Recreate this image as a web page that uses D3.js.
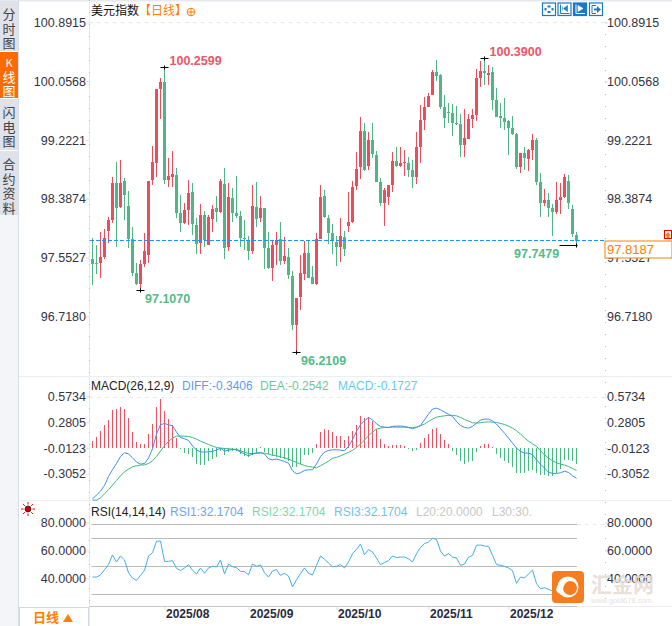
<!DOCTYPE html>
<html>
<head>
<meta charset="utf-8">
<script src="https://cdn.jsdelivr.net/npm/d3@7"></script>
<style>
  html, body { margin: 0; padding: 0; background: #fff; overflow: hidden; }
  text { font-family: "Liberation Sans", Arial, "Noto Sans CJK SC", sans-serif; }
  .cjk { font-family: "Noto Sans CJK SC", sans-serif; }
  .axis text { font-size: 12.5px; fill: #333344; }
  .axis .domain { display: none; }
  .axis line { stroke: #cfe3ef; }
</style>
</head>
<body>
<div id="canvas"></div>
<script>
// candles
const opens = [97.534,97.477,97.477,97.562,97.932,98.088,98.613,98.272,98.641,98.286,97.818,97.335,97.179,97.463,97.591,98.656,98.897,99.947,100.047,98.656,98.698,98.726,98.187,98.045,98.230,98.485,98.017,97.761,98.159,97.733,98.102,98.258,98.201,98.599,97.704,98.400,98.187,98.144,97.832,97.804,97.647,98.272,98.116,98.258,97.690,97.406,97.733,97.818,97.505,97.562,97.293,96.597,96.994,97.321,97.619,97.278,97.179,97.818,98.428,98.116,97.903,97.775,97.704,97.846,98.002,98.059,98.570,98.840,99.351,98.854,99.223,99.010,98.627,98.329,98.414,98.584,98.925,98.854,98.897,98.897,98.798,98.698,99.124,99.507,99.692,99.862,100.189,100.146,99.692,99.621,99.607,99.465,99.451,99.152,99.238,99.522,99.578,100.104,100.203,100.146,100.189,99.791,99.564,99.536,99.493,99.394,99.309,98.840,99.039,98.954,99.081,99.223,98.627,98.329,98.372,98.258,98.201,98.372,98.414,98.641,98.244,97.875];
const highs = [97.827,97.733,97.922,97.960,98.135,98.698,98.916,98.939,98.684,98.499,97.988,97.473,97.520,97.898,98.641,99.138,99.947,100.099,100.264,98.968,99.067,98.826,98.443,98.329,98.656,98.613,98.116,98.315,98.215,98.159,98.301,98.428,98.670,98.826,98.613,98.542,98.712,98.215,98.088,97.861,98.584,98.627,98.428,98.258,97.917,97.804,97.917,98.059,97.846,97.690,97.363,96.980,97.591,97.789,97.789,97.434,97.903,98.584,98.513,98.158,98.031,97.860,98.116,97.931,98.485,98.641,99.053,99.550,99.464,99.337,99.464,99.067,98.684,98.542,98.584,99.053,99.124,99.124,99.081,98.982,98.939,99.337,99.720,99.834,99.891,100.217,100.359,100.160,99.862,99.749,99.734,99.706,99.592,99.663,99.592,99.663,100.231,100.345,100.387,100.288,100.260,99.962,99.749,99.820,99.507,99.564,99.323,99.039,99.124,99.096,99.309,99.252,98.755,98.528,98.471,98.315,98.627,98.613,98.741,98.727,98.301,97.917];
const lows = [97.165,97.321,97.264,97.534,97.756,98.040,97.704,98.258,98.088,97.690,97.293,97.165,97.094,97.425,97.477,98.585,98.703,99.521,98.599,98.556,98.556,98.116,97.917,98.031,98.017,97.875,97.605,97.605,97.704,97.733,97.917,98.059,98.187,97.534,97.648,98.059,98.116,97.704,97.662,97.520,97.605,97.988,98.059,97.392,97.392,97.222,97.449,97.449,97.463,97.250,96.526,96.214,96.810,97.236,97.264,97.179,97.165,97.818,98.116,97.747,97.605,97.434,97.491,97.576,97.917,98.045,98.513,98.670,98.783,98.797,98.968,98.627,98.286,98.002,98.300,98.485,98.840,98.840,98.712,98.698,98.542,98.599,98.897,99.365,99.692,99.862,100.061,99.663,99.394,99.465,99.280,99.436,98.982,98.982,99.238,99.394,99.493,99.976,100.004,100.004,99.649,99.550,99.394,99.365,99.010,99.294,98.812,98.755,98.798,98.783,98.939,98.585,98.130,98.286,98.130,97.861,98.173,98.173,98.400,98.244,97.846,97.728];
const closes = [97.468,97.468,97.562,97.837,98.088,98.613,98.258,98.613,98.443,97.818,97.335,97.179,97.463,97.648,98.641,98.911,99.947,100.047,98.656,98.712,98.741,98.187,98.045,98.230,98.471,98.031,97.747,98.159,97.804,98.130,98.244,98.201,98.641,97.690,98.414,98.187,98.144,97.832,97.818,97.648,98.286,98.102,98.258,97.690,97.406,97.733,97.804,97.505,97.576,97.307,96.597,96.980,97.335,97.619,97.264,97.179,97.818,98.414,98.130,97.903,97.804,97.704,97.860,97.676,98.059,98.556,98.811,99.351,98.797,99.223,99.024,98.627,98.329,98.513,98.584,98.925,98.854,98.897,98.911,98.797,98.698,99.124,99.507,99.692,99.848,100.189,100.132,99.692,99.536,99.607,99.465,99.451,99.152,99.252,99.522,99.578,100.104,100.203,100.175,100.175,99.791,99.550,99.536,99.479,99.394,99.309,98.840,99.039,98.968,99.081,99.223,98.627,98.329,98.372,98.258,98.201,98.372,98.414,98.698,98.324,97.889,97.790];

// macd
const diffs = [-.572,-.530,-.485,-.421,-.318,-.242,-.171,-.091,-.049,-.061,-.106,-.155,-.178,-.171,-.110,-.004,.163,.269,.284,.269,.258,.186,.125,.110,.091,.030,-.019,-.038,-.042,-.038,-.034,-.019,.004,-.030,-.019,-.011,-.015,-.042,-.064,-.083,-.064,-.053,-.045,-.064,-.117,-.129,-.121,-.133,-.148,-.167,-.254,-.288,-.277,-.250,-.242,-.242,-.178,-.091,-.042,-.023,-.015,-.015,-.019,-.027,.023,.099,.193,.269,.314,.352,.326,.280,.250,.242,.239,.250,.254,.254,.250,.239,.224,.239,.261,.326,.390,.447,.458,.440,.413,.390,.364,.307,.261,.239,.231,.250,.288,.322,.333,.333,.314,.277,.224,.174,.117,.061,.004,-.034,-.053,-.053,-.072,-.129,-.178,-.224,-.269,-.284,-.284,-.277,-.258,-.273,-.311,-.341];
const deas = [-.587,-.587,-.561,-.515,-.470,-.417,-.364,-.311,-.265,-.235,-.208,-.197,-.189,-.186,-.171,-.140,-.091,-.030,.030,.080,.117,.140,.140,.140,.136,.125,.106,.083,.064,.045,.027,.011,.004,0,-.004,-.008,-.011,-.027,-.042,-.057,-.057,-.053,-.053,-.053,-.064,-.076,-.083,-.095,-.106,-.121,-.140,-.159,-.178,-.193,-.205,-.212,-.220,-.197,-.171,-.144,-.110,-.102,-.083,-.064,-.045,-.023,.011,.049,.095,.144,.186,.220,.231,.239,.239,.242,.242,.242,.242,.239,.239,.242,.258,.277,.307,.333,.356,.364,.371,.375,.375,.371,.352,.330,.311,.292,.288,.292,.299,.303,.299,.296,.284,.273,.254,.231,.201,.163,.121,.083,.053,.023,-.027,-.072,-.110,-.140,-.163,-.178,-.189,-.205,-.227,-.250];
const hist = [.080,.133,.193,.261,.326,.432,.447,.474,.451,.341,.189,.076,.045,.045,.163,.280,.474,.565,.421,.337,.269,.117,-.011,-.057,-.064,-.095,-.178,-.189,-.189,-.140,-.117,-.095,-.027,-.072,-.042,-.034,-.027,-.064,-.091,-.099,-.072,-.057,.019,-.045,-.064,-.091,-.095,-.106,-.117,-.148,-.216,-.208,-.178,-.080,-.072,-.057,.053,.189,.224,.212,.189,.144,.144,.099,.136,.201,.269,.371,.345,.356,.314,.224,.110,.053,.023,.038,.038,.034,.030,-.011,-.027,-.019,.064,.117,.167,.220,.231,.167,.091,.045,-.027,-.072,-.140,-.174,-.159,-.140,-.045,.023,.053,.053,.011,-.064,-.110,-.140,-.167,-.212,-.280,-.284,-.284,-.254,-.242,-.280,-.299,-.307,-.318,-.311,-.280,-.231,-.129,-.129,-.140,-.182];

// rsi
const rsi = [42.1,42.1,43.6,47.4,51.0,57.9,52.9,57.1,54.3,45.2,41.4,39.8,43.3,46.9,57.1,59.5,67.6,67.9,53.3,53.3,53.8,48.3,46.7,48.6,51.0,46.9,44.3,48.6,44.8,48.6,49.8,49.3,54.3,44.3,51.4,49.5,48.8,46.2,46.0,43.6,51.4,49.8,50.7,45.2,42.1,46.4,47.4,43.3,44.8,42.9,35.0,40.2,44.5,48.6,44.8,43.6,50.5,57.1,54.8,52.1,49.5,49.8,51.0,48.6,52.9,58.8,61.9,65.7,58.1,61.7,60.0,55.7,51.0,52.4,53.8,57.1,56.0,56.4,56.4,55.2,52.9,58.8,63.3,66.0,67.1,69.8,69.0,60.7,57.1,58.8,56.4,55.7,50.5,51.4,56.2,57.6,64.8,65.0,64.3,64.0,57.6,51.0,50.5,49.8,48.6,46.7,37.6,42.1,41.4,44.3,47.1,37.4,33.8,34.5,33.3,32.1,31.9,30.7,33.8,33.3,32.6,32.17];

const priceTicks = [100.8915, 100.0568, 99.2221, 98.3874, 97.5527, 96.718];
const macdTicks = [0.5734, 0.2805, -0.0123, -0.3052];
const rsiTicks = [80, 60, 40];
const rsiLevels = [80, 70, 50, 30];
const monthIdx = [18, 39, 61, 84, 104];
const monthLabels = ["2025/08", "2025/09", "2025/10", "2025/11", "2025/12"];
const sideTabs = [["分", "时", "图"], ["K", "线", "图"], ["闪", "电", "图"], ["合", "约", "资", "料"]];
const extremes = [
  { i: 18, text: "100.2599", high: true },
  { i: 12, text: "97.1070", high: false },
  { i: 51, text: "96.2109", high: false },
  { i: 98, text: "100.3900", high: true },
  { i: 121, text: "97.7479", high: false }
];
const current = 97.8;

const red = "#eb4d5c";
const green = "#50b685";
const orange = "#ff8000";

const width = 672;
const height = 626;
const left = 89;
const right = 605;

const svg = d3.select("#canvas").append("svg")
  .attr("width", width)
  .attr("height", height)
  .style("display", "block");

const x = d3.scaleLinear().domain([0, 121]).range([92.5, 576.5]);
const yPrice = d3.scaleLinear().domain([100.8915, 96.718]).range([22.5, 316.5]);
const yMacd = d3.scaleLinear().domain([0.5734, -0.3052]).range([398, 475.3]);
const yRsi = d3.scaleLinear().domain([80, 20]).range([524, 608]);

// frame
svg.append("rect").attr("x", 0).attr("y", 0).attr("width", width).attr("height", 1.5).attr("fill", "#e6e9ee");
[376.5, 500.5].forEach((y) => {
  svg.append("line").attr("x1", 19).attr("x2", width).attr("y1", y).attr("y2", y).attr("stroke", "#e8eef2");
});
svg.append("line").attr("x1", left + 0.5).attr("x2", left + 0.5).attr("y1", 0).attr("y2", 626).attr("stroke", "#e4ebf0");
svg.append("line").attr("x1", 18.5).attr("x2", 18.5).attr("y1", 0).attr("y2", 626).attr("stroke", "#d8dee6");
svg.append("line").attr("x1", left + 0.5).attr("x2", left + 0.5).attr("y1", 0).attr("y2", 606)
  .attr("stroke", "#b5bcc4").attr("stroke-dasharray", "1,11");
svg.append("line").attr("x1", right + 0.5).attr("x2", right + 0.5).attr("y1", 22).attr("y2", 606)
  .attr("stroke", "#b5bcc4").attr("stroke-dasharray", "1,11");

// dashed top grid of each panel
[[22.5, left], [397.5, left], [524.5, 577]].forEach(([y, from]) => {
  svg.append("line").attr("x1", from).attr("x2", right).attr("y1", y).attr("y2", y)
    .attr("stroke", "#e6eaee").attr("stroke-dasharray", "4,4");
});

// side tabs
const tabTops = [1, 52, 99, 151];
const tabHeights = [50, 46, 51, 64];
const tabBase = [19, 67, 117, 169];
sideTabs.forEach((chars, t) => {
  const on = t === 1;
  svg.append("rect").attr("x", 0).attr("y", tabTops[t]).attr("width", 18).attr("height", tabHeights[t])
    .attr("fill", on ? "#ff6a00" : "#dfe2ea");
  chars.forEach((c, k) => {
    svg.append("text").attr("class", "cjk").attr("x", 9).attr("y", tabBase[t] + k * 14.5)
      .attr("text-anchor", "middle").attr("fill", on ? "#fff" : "#444")
      .style("font-size", on && k === 0 ? "11px" : "13px").text(c);
  });
});
svg.append("rect").attr("x", 0).attr("y", 215).attr("width", 18).attr("height", 411).attr("fill", "#f4f5f8");

// axes
function drawAxes(scale, ticks, cls, shift) {
  const fmt = (d) => d.toFixed(4);
  const a = svg.append("g").attr("class", "axis " + cls).attr("transform", `translate(${left},0)`)
    .call(d3.axisLeft(scale).tickValues(ticks).tickSize(3).tickPadding(0).tickFormat(fmt));
  const b = svg.append("g").attr("class", "axis " + cls).attr("transform", `translate(${right},0)`)
    .call(d3.axisRight(scale).tickValues(ticks).tickSize(3).tickPadding(-1).tickFormat(fmt));
  a.selectAll("g.tick").attr("transform", (d) => `translate(0,${scale(d) + shift})`);
  b.selectAll("g.tick").attr("transform", (d) => `translate(0,${scale(d) + shift})`);
}
drawAxes(yPrice, priceTicks, "price", 0.5);
drawAxes(yMacd, macdTicks, "macd", -1);
drawAxes(yRsi, rsiTicks, "rsi", -1);

// candles
const candles = svg.append("g").selectAll("g").data(d3.range(opens.length)).enter().append("g")
  .attr("shape-rendering", "crispEdges");
candles.append("line")
  .attr("x1", (i) => x(i)).attr("x2", (i) => x(i))
  .attr("y1", (i) => yPrice(highs[i])).attr("y2", (i) => yPrice(lows[i]))
  .attr("stroke", (i) => (closes[i] >= opens[i] ? red : green));
candles.append("rect")
  .attr("x", (i) => x(i) - 1.5).attr("width", 3)
  .attr("y", (i) => yPrice(Math.max(opens[i], closes[i])))
  .attr("height", (i) => Math.max(1, Math.abs(yPrice(opens[i]) - yPrice(closes[i]))))
  .attr("fill", (i) => (closes[i] >= opens[i] ? red : green));

// current price line
const curY = Math.round(yPrice(current)) + 0.5;
svg.append("line").attr("x1", left + 1).attr("x2", right).attr("y1", curY).attr("y2", curY)
  .attr("stroke", "#1e90ff").attr("stroke-dasharray", "4,2");

// high / low markers
extremes.forEach((e) => {
  const my = Math.round(yPrice(e.high ? highs[e.i] : lows[e.i])) + 0.5;
  const last = e.i === 121;
  svg.append("line").attr("x1", x(e.i) - (last ? 17 : 4)).attr("x2", x(e.i) + (last ? 1 : 4))
    .attr("y1", my).attr("y2", my).attr("stroke", "#000");
  svg.append("line").attr("x1", x(e.i)).attr("x2", x(e.i)).attr("y1", my - 2).attr("y2", my + 2).attr("stroke", "#000");
  svg.append("text")
    .attr("x", last ? x(e.i) - 62.5 : e.high ? x(e.i) + 5 : x(e.i) + 4.5)
    .attr("y", e.high ? my - 3 : my + 12)
    .attr("fill", e.high ? "#ee5566" : "#55bb88")
    .style("font-size", "12.5px").style("font-weight", "bold")
    .text(e.text);
});

// current price box
svg.append("rect").attr("x", 605).attr("y", 241).attr("width", 67).attr("height", 17)
  .attr("fill", "#fff").attr("stroke", orange);
svg.append("text").attr("x", 607).attr("y", 254).attr("fill", orange).style("font-size", "13px").text("97.8187");
svg.append("rect").attr("x", 664.5).attr("y", 230.5).attr("width", 7).attr("height", 8).attr("fill", "#fff").attr("stroke", "#e00");
svg.append("path").attr("d", "M668,232L671,235.5H669.5V238H666.5V235.5H665Z").attr("fill", orange);

// macd panel
svg.append("g").selectAll("line").data(hist).enter().append("line")
  .attr("shape-rendering", "crispEdges")
  .attr("x1", (d, i) => x(i)).attr("x2", (d, i) => x(i))
  .attr("y1", yMacd(0)).attr("y2", (d) => yMacd(d))
  .attr("stroke", (d) => (d >= 0 ? "#f0505f" : "#45bb80"));
const macdLine = d3.line().x((d, i) => x(i)).y((d) => yMacd(d));
svg.append("path").attr("d", macdLine(deas)).attr("fill", "none").attr("stroke", "#3cba7f");
svg.append("path").attr("d", macdLine(diffs)).attr("fill", "none").attr("stroke", "#3d8ff0");

// rsi panel
rsiLevels.forEach((l) => {
  svg.append("line").attr("x1", x(0) - 1).attr("x2", 577).attr("y1", Math.round(yRsi(l)) + 0.5).attr("y2", Math.round(yRsi(l)) + 0.5)
    .attr("stroke", "#bbbbbb");
});
svg.append("line").attr("x1", left).attr("x2", 577).attr("y1", 606.5).attr("y2", 606.5).attr("stroke", "#c4c8cc");
svg.append("line").attr("x1", 577).attr("x2", width).attr("y1", 606.5).attr("y2", 606.5).attr("stroke", "#e8eef2");
svg.append("path")
  .attr("d", d3.line().x((d, i) => x(i)).y((d) => yRsi(d))(rsi))
  .attr("fill", "none").attr("stroke", "#3fb0e8");

// time axis
const tAxis = svg.append("g").attr("class", "axis time").attr("transform", "translate(0,607)")
  .call(d3.axisBottom(x).tickValues(monthIdx).tickSize(3).tickPadding(2).tickFormat((d, i) => monthLabels[i]));
tAxis.selectAll("line").attr("stroke", "#c4c8cc");
tAxis.selectAll("text").attr("text-anchor", "start").attr("dx", 1).attr("dy", "0.5em")
  .style("font-size", "12px").style("font-weight", "bold").style("fill", "#2a2a3a");

// timeframe box
svg.append("rect").attr("x", 19.5).attr("y", 607.5).attr("width", 69).attr("height", 20)
  .attr("fill", "#fff").attr("stroke", "#d4dae2");
svg.append("text").attr("class", "cjk").attr("x", 33).attr("y", 622).attr("fill", orange)
  .style("font-size", "13px").style("font-weight", "bold").text("日线");
svg.append("path").attr("d", "M68,614L73,622H63Z").attr("fill", orange);

// headers
function label(xp, y, color, txt, cls) {
  return svg.append("text").attr("class", cls || null).attr("x", xp).attr("y", y).attr("fill", color)
    .style("font-size", "12px").text(txt);
}
label(91, 15, "#111", "美元指数", "cjk");
label(139, 15, orange, "【日线】", "cjk");
svg.append("circle").attr("cx", 191).attr("cy", 12).attr("r", 3.8).attr("fill", "none").attr("stroke", orange);
svg.append("path").attr("d", "M187,12H195M191,8V16").attr("stroke", orange);

label(91, 390, "#222", "MACD(26,12,9)");
label(182, 390, "#55a0f5", "DIFF:-0.3406");
label(260, 390, "#66cc99", "DEA:-0.2542");
label(338, 390, "#66ccee", "MACD:-0.1727");

label(91, 516, "#222", "RSI(14,14,14)");
label(170, 516, "#6aa5ff", "RSI1:32.1704");
label(252, 516, "#77ddaa", "RSI2:32.1704");
label(334, 516, "#66c8ee", "RSI3:32.1704");
label(416, 516, "#c8c8c8", "L20:20.0000");
label(492, 516, "#c8c8c8", "L30:30.");

// sun icon
const sun = svg.append("g").attr("transform", "translate(28,509)");
sun.append("circle").attr("r", 3).attr("fill", "#c00").attr("stroke", "#222").attr("stroke-width", 0.8);
d3.range(8).forEach((k) => {
  const a = (k * Math.PI) / 4;
  sun.append("line").attr("x1", 4.5 * Math.cos(a)).attr("y1", 4.5 * Math.sin(a))
    .attr("x2", 7 * Math.cos(a)).attr("y2", 7 * Math.sin(a)).attr("stroke", "#e00");
});

// toolbar buttons
[[542, false], [557.5, false], [573, true], [589, false]].forEach(([bx, on], k) => {
  const g = svg.append("g").attr("transform", `translate(${bx},2.5)`);
  g.append("rect").attr("x", 0.5).attr("y", 0.5).attr("width", 13).attr("height", 12.5)
    .attr("fill", on ? "#1a7ac8" : "#fff").attr("stroke", "#1a7ac8").attr("stroke-width", 1.2);
  const c = on ? "#fff" : "#1a7ac8";
  if (k === 0) {
    g.append("path").attr("d", "M5.5,3H8.5V5H5.5ZM5.5,8.5H8.5V10.5H5.5ZM2.5,5.5H4.5V8H2.5ZM9.5,5.5H11.5V8H9.5Z").attr("fill", c);
  } else if (k === 3) {
    g.append("path").attr("d", "M3,3V11M3,3H7M3,11H7").attr("fill", "none").attr("stroke", c);
    g.append("path").attr("d", "M5,6H8V3.5L12,7L8,10.5V8H5Z").attr("fill", c);
  } else {
    g.append("path").attr("d", "M3,2V11H12").attr("fill", "none").attr("stroke", c);
    g.append("path").attr("d", k === 1 ? "M10,3V9L6,6ZM5,4V8" : "M5,3V9L10,6Z").attr("fill", c).attr("stroke", c).attr("stroke-width", 0.6);
  }
});

// watermark
const wm = svg.append("g");
wm.append("rect").attr("x", 552).attr("y", 571).attr("width", 32).attr("height", 32).attr("rx", 4).attr("fill", "#f57c1f");
wm.append("circle").attr("cx", 568).attr("cy", 587).attr("r", 10.5).attr("fill", "#fff");
wm.append("circle").attr("cx", 570).attr("cy", 588).attr("r", 7).attr("fill", "#f57c1f");
wm.append("path").attr("d", "M556,590C558,580 566,577 574,580C566,580 562,585 563,595C560,594 557,593 556,590Z").attr("fill", "#fff");
wm.append("text").attr("class", "cjk").attr("x", 591).attr("y", 592).attr("fill", "#e4dcd4").attr("opacity", 0.85)
  .style("font-size", "21px").style("font-weight", "bold").text("汇金网");
wm.append("text").attr("x", 591).attr("y", 603).attr("fill", "#e8e2dc")
  .style("font-size", "7.5px").text("www.gold678.com");
</script>
</body>
</html>
